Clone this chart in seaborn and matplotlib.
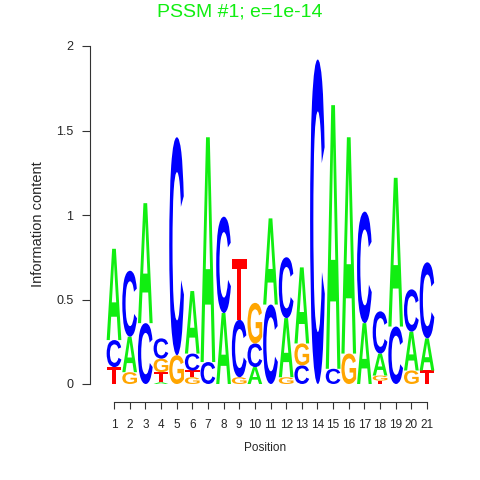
import matplotlib
matplotlib.use("Agg")
import matplotlib.pyplot as plt
import seaborn as sns
import pandas as pd
from matplotlib.textpath import TextPath
from matplotlib.patches import PathPatch
from matplotlib.font_manager import FontProperties
from matplotlib.transforms import Affine2D

# information content per base, one value per position
positions = list(range(1, 22))
bits_A = [0.54, 0.21, 0.71, 0.01, 0.00, 0.37, 1.33, 0.42, 0.00, 0.10, 0.51,
          0.35, 0.45, 0.00, 1.56, 1.28, 0.36, 0.13, 0.88, 0.23, 0.19]
bits_C = [0.16, 0.39, 0.36, 0.12, 1.29, 0.10, 0.13, 0.57, 0.34, 0.14, 0.47,
          0.36, 0.11, 1.92, 0.09, 0.00, 0.66, 0.25, 0.34, 0.25, 0.45]
bits_G = [0.00, 0.07, 0.00, 0.08, 0.17, 0.04, 0.00, 0.00, 0.04, 0.24, 0.00,
          0.04, 0.13, 0.00, 0.00, 0.18, 0.00, 0.03, 0.00, 0.08, 0.00]
bits_T = [0.10, 0.00, 0.00, 0.06, 0.00, 0.04, 0.00, 0.00, 0.36, 0.00, 0.00,
          0.00, 0.00, 0.00, 0.00, 0.00, 0.00, 0.02, 0.00, 0.00, 0.08]
y_ticks = [0, 0.5, 1, 1.5, 2]
y_tick_labels = ["0", "0.5", "1", "1.5", "2"]

colors = {"A": "#11ee11", "C": "#0000ff", "G": "#ffa500", "T": "#ff0000"}

df = pd.DataFrame({"Position": positions, "A": bits_A, "C": bits_C,
                   "G": bits_G, "T": bits_T})

sns.set_style("ticks")
plt.rcParams["font.family"] = ["Liberation Sans", "DejaVu Sans"]

fig = plt.figure(figsize=(4.8, 4.8), dpi=100)
ax = fig.add_axes([90 / 480, 78 / 480, 350 / 480, 356 / 480])

font = FontProperties(family="Liberation Sans", weight="bold")


def draw_letter(ax, letter, x, y0, height, width=0.94):
    tp = TextPath((0, 0), letter, size=1, prop=font)
    bb = tp.get_extents()
    tr = (Affine2D()
          .translate(-bb.x0, -bb.y0)
          .scale(width / bb.width, height / bb.height)
          .translate(x - width / 2, y0))
    patch = PathPatch(tr.transform_path(tp), facecolor=colors[letter],
                      edgecolor="none", transform=ax.transData)
    ax.add_patch(patch)


for _, row in df.iterrows():
    # smallest letter at the bottom, largest on top
    stack = sorted([(row[b], i, b) for i, b in enumerate("ACGT") if row[b] > 0])
    y = 0.0
    for h, _, b in stack:
        draw_letter(ax, b, row["Position"], y, h)
        y += h

px_per_unit = 15.65
ax.set_xlim(1 - 24 / px_per_unit, 21 + 13 / px_per_unit)
ax.set_ylim(-18 / 169, 2.0)

ax.set_xticks(positions)
ax.set_xticklabels([str(p) for p in positions], fontsize=8.5)
ax.set_yticks(y_ticks)
ax.set_yticklabels(y_tick_labels, fontsize=9)
ax.tick_params(axis="x", length=5, width=0.8, color="#333333", pad=7)
ax.tick_params(axis="y", length=6, width=0.8, color="#333333", pad=6)

sns.despine(ax=ax)
ax.spines["left"].set_bounds(0, 2)
ax.spines["bottom"].set_bounds(1, 21)
for s in ["left", "bottom"]:
    ax.spines[s].set_linewidth(0.8)
    ax.spines[s].set_color("#333333")

ax.set_xlabel("Position", fontsize=8.5, labelpad=8)
ax.set_ylabel("Information content", fontsize=10.5, labelpad=8)

fig.text(0.5, 1 - 12 / 480, "PSSM #1; e=1e-14", color="#11ee11",
         fontsize=14, ha="center", va="center")

fig.savefig("out.png", dpi=100)
